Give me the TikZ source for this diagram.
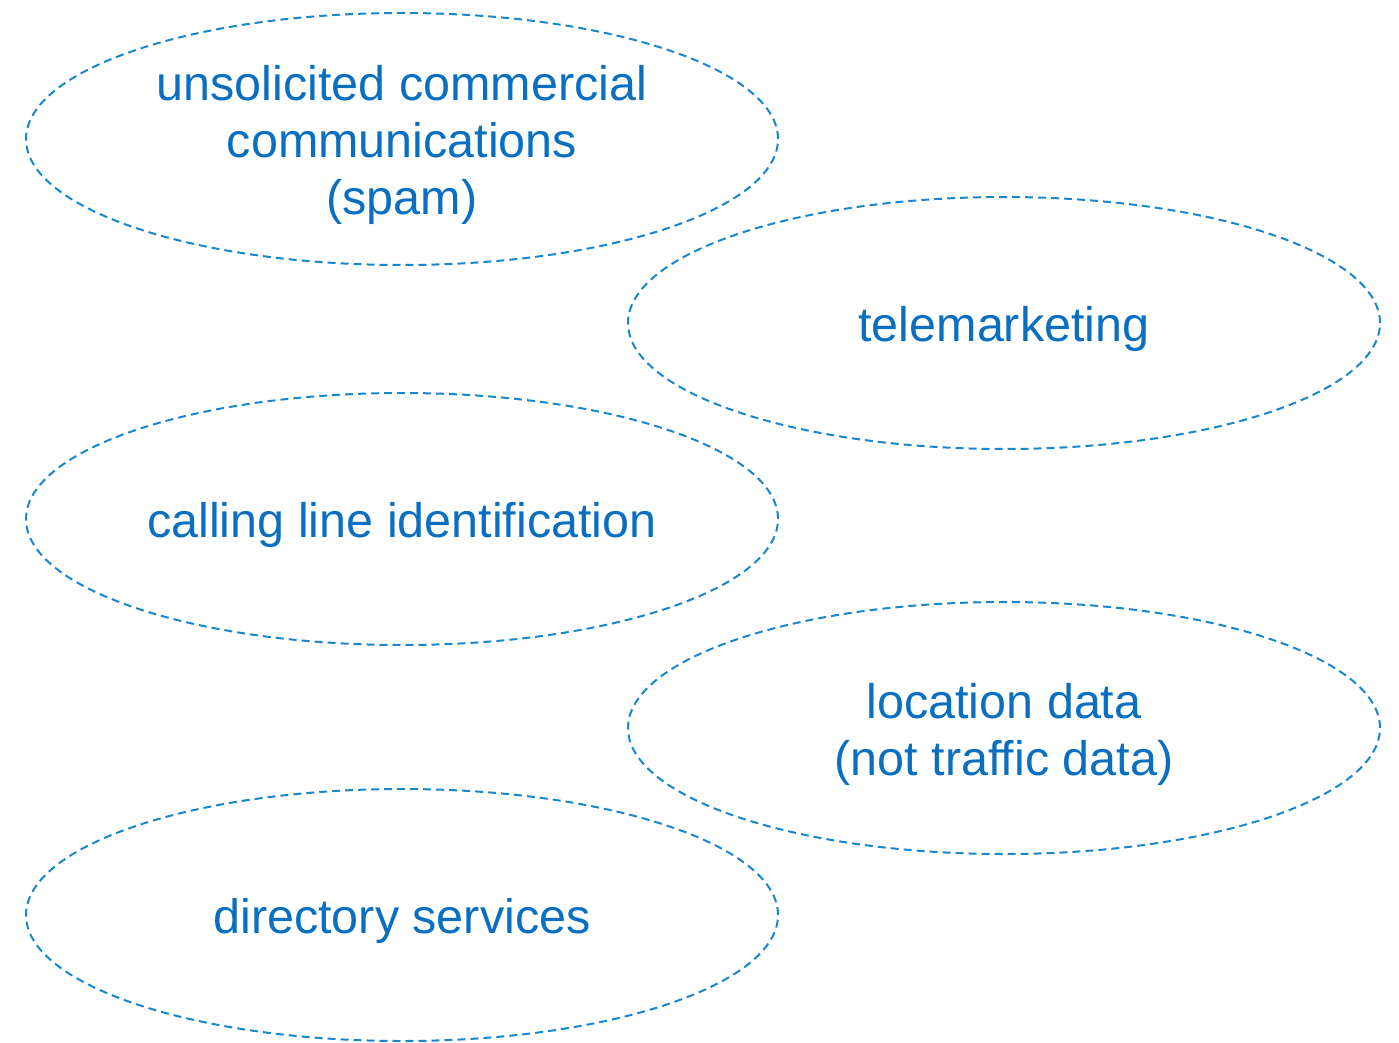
\documentclass[tikz,border=0pt]{standalone}
\usepackage{fontspec}
\setmainfont{Liberation Sans}
\usetikzlibrary{shapes.geometric}
\definecolor{linec}{HTML}{1A86CC}
\definecolor{textc}{HTML}{0A6FC0}
\tikzset{
  ell/.style={ellipse, draw=linec, line width=2pt, dash pattern=on 8pt off 5pt,
    minimum width=752pt, minimum height=252pt, inner sep=0pt},
  lbl/.style={text=textc, align=center, inner sep=0pt, font=\fontsize{48.5}{57}\selectfont}
}
\begin{document}
\begin{tikzpicture}[x=1pt,y=-1pt]
\useasboundingbox (0,0) rectangle (1399,1043);
\node[ell] (spam) at (402,139) {};
\node[ell] (tele) at (1004,323) {};
\node[ell] (cli) at (402,519) {};
\node[ell] (loc) at (1004,728) {};
\node[ell] (dir) at (402,915) {};
\node[lbl] (spamt) at ([yshift=-6pt]spam.center) {unsolicited commercial\\communications\\(spam)};
\node[lbl] (telet) at ([yshift=-6pt]tele.center) {telemarketing};
\node[lbl] (clit) at ([yshift=-6pt]cli.center) {calling line identification};
\node[lbl] (loct) at ([yshift=-6pt]loc.center) {location data\\(not traffic data)};
\node[lbl] (dirt) at ([yshift=-6pt]dir.center) {directory services};
\end{tikzpicture}
\end{document}
